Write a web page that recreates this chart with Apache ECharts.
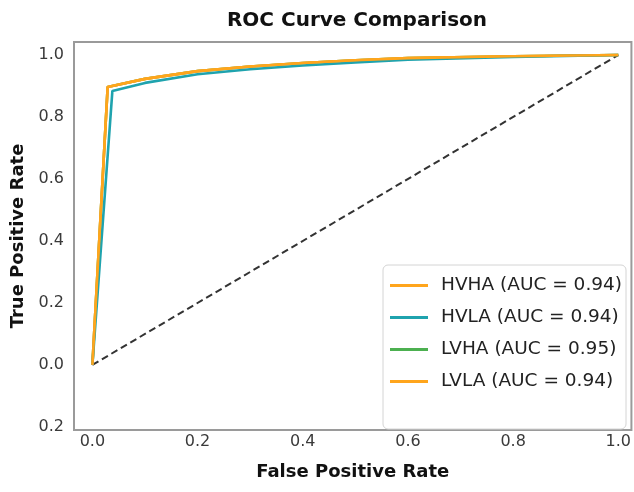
<!DOCTYPE html>
<html>
<head>
<meta charset="utf-8">
<script src="https://cdn.jsdelivr.net/npm/echarts@6/dist/echarts.min.js"></script>
<style>
  html, body { margin: 0; padding: 0; background: #fff; }
  #main { width: 634px; height: 492px; }
</style>
</head>
<body>
<div id="main"></div>
<script>
// ROC points, [fpr, tpr]
const hvha = [[0, 0], [0.029, 0.897], [0.1, 0.923], [0.2, 0.948], [0.3, 0.963], [0.4, 0.974], [0.5, 0.983], [0.6, 0.99], [0.8, 0.996], [1, 1]]
const hvla = [[0, 0], [0.038, 0.884], [0.1, 0.91], [0.2, 0.938], [0.3, 0.954], [0.4, 0.966], [0.5, 0.976], [0.6, 0.985], [0.8, 0.994], [1, 1]]
const lvha = [[0, 0], [0.029, 0.897], [0.1, 0.923], [0.2, 0.948], [0.3, 0.963], [0.4, 0.974], [0.5, 0.983], [0.6, 0.99], [0.8, 0.996], [1, 1]]
const lvla = [[0, 0], [0.029, 0.897], [0.1, 0.923], [0.2, 0.948], [0.3, 0.963], [0.4, 0.974], [0.5, 0.983], [0.6, 0.99], [0.8, 0.996], [1, 1]]
const chance = [[0, 0], [1, 1]]

const legendNames = ['HVHA (AUC = 0.94)', 'HVLA (AUC = 0.94)', 'LVHA (AUC = 0.95)', 'LVLA (AUC = 0.94)']
const xTicks = [0, 0.2, 0.4, 0.6, 0.8, 1.0]
const yTicks = [-0.2, 0, 0.2, 0.4, 0.6, 0.8, 1.0]

const orange = '#ffa51c'
const teal = '#1fa3ae'
const green = '#4cb050'

function rocLine(name, data, color, z) {
  return {
    name: name,
    type: 'line',
    data: data,
    symbol: 'none',
    z: z,
    lineStyle: { width: 2.6, color: color },
    itemStyle: { color: color }
  }
}

const chart = echarts.init(document.getElementById('main'))
chart.setOption({
  animation: false,
  backgroundColor: '#fff',
  title: {
    text: 'ROC Curve Comparison',
    left: 352,
    textAlign: 'center',
    top: 6,
    textStyle: { fontFamily: 'DejaVu Sans', fontWeight: 'bold', fontSize: 20, color: '#111' }
  },
  grid: {
    left: 74,
    top: 42,
    width: 558,
    height: 388,
    show: true,
    borderColor: '#9a9a9a',
    borderWidth: 2,
    backgroundColor: '#fff'
  },
  legend: {
    data: legendNames,
    orient: 'vertical',
    left: 383,
    top: 265,
    padding: [11, 4, 38, 7],
    itemGap: 13,
    itemWidth: 38,
    itemHeight: 3,
    icon: 'rect',
    selectedMode: false,
    backgroundColor: '#fff',
    borderColor: '#d4d4d4',
    borderWidth: 1,
    borderRadius: 5,
    textStyle: { fontFamily: 'DejaVu Sans', fontSize: 18.5, color: '#222', padding: [0, 0, 0, 8] }
  },
  xAxis: {
    type: 'value',
    min: -0.035,
    max: 1.025,
    name: 'False Positive Rate',
    nameLocation: 'middle',
    nameGap: 33,
    nameTextStyle: { fontFamily: 'DejaVu Sans', fontWeight: 'bold', fontSize: 18, color: '#111' },
    axisLine: { show: false },
    axisTick: { show: false },
    splitLine: { show: false },
    axisLabel: {
      customValues: xTicks,
      margin: 4,
      fontFamily: 'DejaVu Sans',
      fontSize: 16,
      color: '#3a3a3a',
      formatter: v => v.toFixed(1)
    }
  },
  yAxis: {
    type: 'value',
    min: -0.21,
    max: 1.042,
    name: 'True Positive Rate',
    nameLocation: 'middle',
    nameGap: 47,
    nameTextStyle: { fontFamily: 'DejaVu Sans', fontWeight: 'bold', fontSize: 18, color: '#111' },
    axisLine: { show: false },
    axisTick: { show: false },
    splitLine: { show: false },
    axisLabel: {
      customValues: yTicks,
      margin: 10,
      fontFamily: 'DejaVu Sans',
      fontSize: 16,
      color: '#3a3a3a',
      // the reference prints the bottom tick without its minus sign
      formatter: v => Math.abs(v).toFixed(1)
    }
  },
  series: [
    {
      name: 'chance',
      type: 'line',
      data: chance,
      symbol: 'none',
      z: 1,
      lineStyle: { width: 2, color: '#333', type: [7, 4] }
    },
    rocLine(legendNames[2], lvha, green, 2),
    rocLine(legendNames[3], lvla, orange, 3),
    rocLine(legendNames[1], hvla, teal, 4),
    rocLine(legendNames[0], hvha, orange, 5)
  ]
})
</script>
</body>
</html>
